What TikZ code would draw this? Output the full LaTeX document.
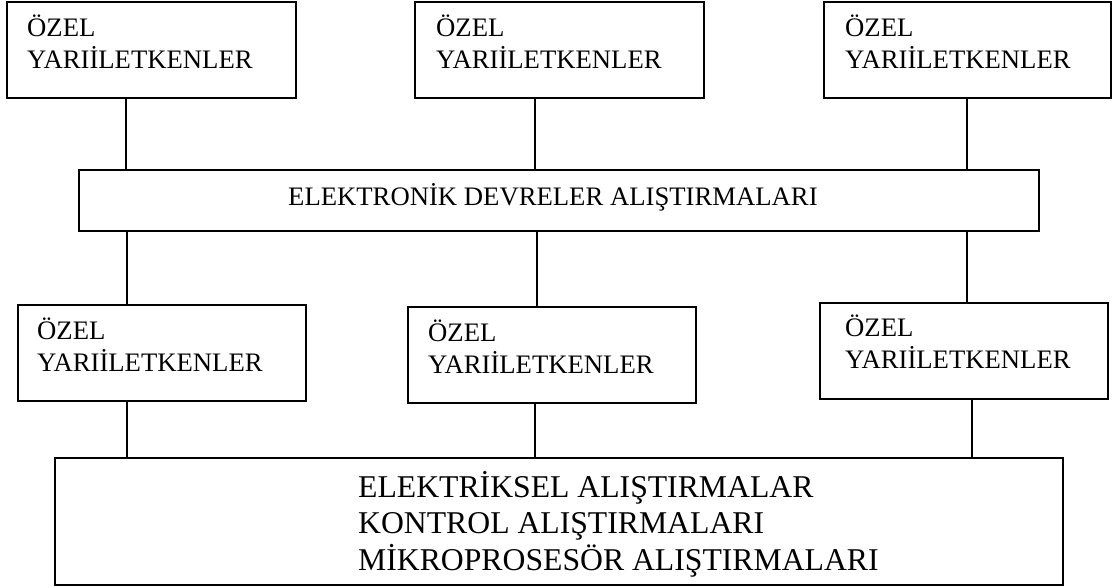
\documentclass[tikz,border=0pt]{standalone}
\usepackage{fontspec}
\setmainfont{Liberation Serif}
\usetikzlibrary{calc}
\begin{document}
\begin{tikzpicture}[x=1pt,y=-1pt,
  box/.style={draw=black, line width=1.5pt, inner sep=0pt, anchor=north west},
  txt/.style={anchor=base west, inner sep=0pt, align=left},
  small/.style={font=\fontsize{26.7}{32}\selectfont},
  big/.style={font=\fontsize{31.7}{36.5}\selectfont},
  link/.style={line width=1.5pt}]
\useasboundingbox (0,0) rectangle (1112,587);
% top row
\node[box, minimum width=289pt, minimum height=96pt] (t1) at (6,1) {};
\node[box, minimum width=289pt, minimum height=96pt] (t2) at (414,1) {};
\node[box, minimum width=287pt, minimum height=96pt] (t3) at (823,1) {};
\node[txt, small] (t1t) at (27,68) {ÖZEL\\YARIİLETKENLER};
\node[txt, small] (t2t) at (436,68) {ÖZEL\\YARIİLETKENLER};
\node[txt, small] (t3t) at (845,68) {ÖZEL\\YARIİLETKENLER};
% middle
\node[box, minimum width=960pt, minimum height=61pt] (mid) at (78,169) {};
\node[txt, small] (midt) at (288,205) {ELEKTRONİK DEVRELER ALIŞTIRMALARI};
% second row
\node[box, minimum width=288pt, minimum height=96pt] (b1) at (17,304) {};
\node[box, minimum width=288pt, minimum height=96pt] (b2) at (407,306) {};
\node[box, minimum width=288pt, minimum height=96pt] (b3) at (819,302) {};
\node[txt, small] (b1t) at (37,371) {ÖZEL\\YARIİLETKENLER};
\node[txt, small] (b2t) at (428,373) {ÖZEL\\YARIİLETKENLER};
\node[txt, small] (b3t) at (845,368) {ÖZEL\\YARIİLETKENLER};
% bottom
\node[box, minimum width=1008pt, minimum height=127pt] (bot) at (54,457) {};
\node[txt, big] (bott) at (358,570) {ELEKTRİKSEL ALIŞTIRMALAR\\KONTROL ALIŞTIRMALARI\\MİKROPROSESÖR ALIŞTIRMALARI};
% connector x positions
\coordinate (xa) at (126,0);
\coordinate (xb) at (535,0);
\coordinate (xc) at (967,0);
\coordinate (xd) at (127,0);
\coordinate (xe) at (537,0);
\coordinate (xf) at (972,0);
\draw[link] (t1.south -| xa) -- (mid.north -| xa);
\draw[link] (t2.south -| xb) -- (mid.north -| xb);
\draw[link] (t3.south -| xc) -- (mid.north -| xc);
\draw[link] (mid.south -| xd) -- (b1.north -| xd);
\draw[link] (mid.south -| xe) -- (b2.north -| xe);
\draw[link] (mid.south -| xc) -- (b3.north -| xc);
\draw[link] (b1.south -| xd) -- (bot.north -| xd);
\draw[link] (b2.south -| xb) -- (bot.north -| xb);
\draw[link] (b3.south -| xf) -- (bot.north -| xf);
\end{tikzpicture}
\end{document}
